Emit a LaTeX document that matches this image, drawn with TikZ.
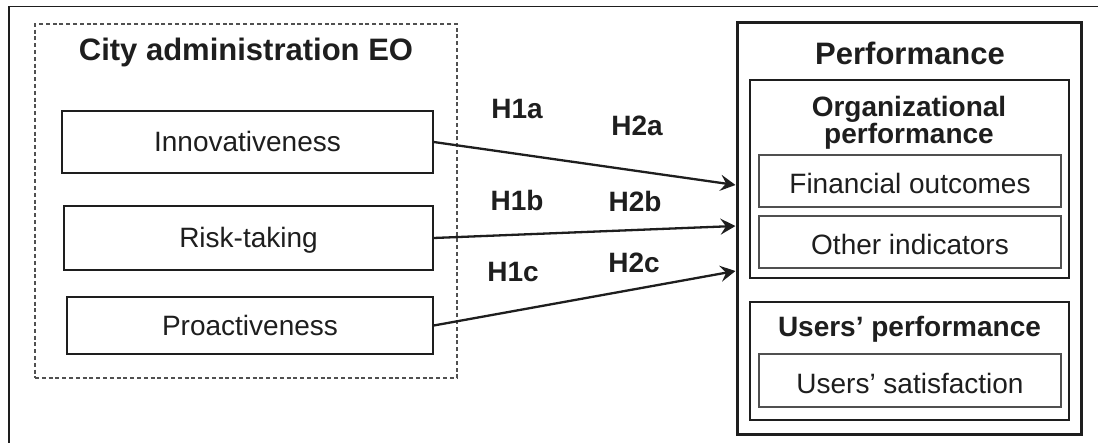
\documentclass[tikz,border=0pt]{standalone}
\usepackage{fontspec}
\setmainfont{Liberation Sans}
\usetikzlibrary{arrows.meta}
\definecolor{ink}{HTML}{1E1E1E}
\definecolor{thin}{HTML}{505050}
\tikzset{
  title/.style={font=\bfseries\fontsize{31}{31}\selectfont, text=ink, inner sep=0pt, anchor=base},
  subtitle/.style={font=\bfseries\fontsize{28}{27}\selectfont, text=ink, inner sep=0pt},
  hlabel/.style={font=\bfseries\fontsize{28}{28}\selectfont, text=ink, inner sep=0pt, anchor=base},
  leftbox/.style={draw=ink, line width=1.5pt, inner sep=0pt, text=ink,
    font=\fontsize{28}{28}\selectfont, text height=20pt, text depth=0pt},
  rightbox/.style={draw=thin, line width=1.2pt, inner sep=0pt, text=ink,
    font=\fontsize{28}{28}\selectfont, text height=26pt, text depth=0pt,
    minimum width=302pt},
  groupbox/.style={draw=ink, line width=2.2pt, inner sep=0pt, minimum width=319pt},
  link/.style={draw=ink, line width=2.3pt, -{Stealth[length=15pt,width=16pt,inset=5.5pt]}},
}
\begin{document}
\begin{tikzpicture}[x=1pt,y=-1pt]
\useasboundingbox (0,0) rectangle (1098,443);
\fill[white] (0,0) rectangle (1098,443);
% outer frame (cropped)
\draw[ink, line width=1.3pt] (9,443) -- (9,6.5) -- (1098,6.5);

% left group
\node[draw=thin, line width=1.1pt, dash pattern=on 4pt off 2.8pt, minimum width=422pt, minimum height=354pt, inner sep=0pt] (eo) at (246,201) {};
\node[title] (eot) at (246,61) {City administration EO};
\node[leftbox, minimum width=371pt, minimum height=62pt] (inn) at (247.5,142) {Innovativeness};
\node[leftbox, minimum width=369pt, minimum height=64pt] (risk) at (248.5,238) {Risk-taking};
\node[leftbox, minimum width=366pt, minimum height=57pt] (pro) at (250,325.5) {Proactiveness};

% right group
\node[draw=ink, line width=3pt, minimum width=344pt, minimum height=412pt, inner sep=0pt] (perf) at (909,229) {};
\node[title] (perft) at (910,65) {Performance};
\node[groupbox, minimum height=198pt] (org) at (909.5,179) {};
\node[subtitle, align=center, anchor=north] (orgt) at (909,96) {Organizational\\performance};
\node[rightbox, minimum height=52pt] (fin) at (910,181) {Financial outcomes};
\node[rightbox, minimum height=52pt] (oth) at (910,242) {Other indicators};
\node[groupbox, minimum height=118pt] (usr) at (909.5,361) {};
\node[subtitle, anchor=base] (usrt) at (909.5,337) {Users’ performance};
\node[rightbox, minimum height=53pt] (sat) at (910,380.5) {Users’ satisfaction};

% arrow ends on the performance box
\path (perf.west) ++(0,-44) coordinate (e1);
\path (perf.west) ++(0,-3) coordinate (e2);
\path (perf.west) ++(0,42) coordinate (e3);

\draw[link] (inn.east) -- (e1);
\draw[link] (risk.east) -- (e2);
\draw[link] (pro.east) -- (e3);

% hypothesis labels
\node[hlabel] (h1a) at (517,119) {H1a};
\node[hlabel] (h2a) at (637,136) {H2a};
\node[hlabel] (h1b) at (517,211) {H1b};
\node[hlabel] (h2b) at (635,212) {H2b};
\node[hlabel] (h1c) at (513,282) {H1c};
\node[hlabel] (h2c) at (634,273) {H2c};
\end{tikzpicture}
\end{document}
